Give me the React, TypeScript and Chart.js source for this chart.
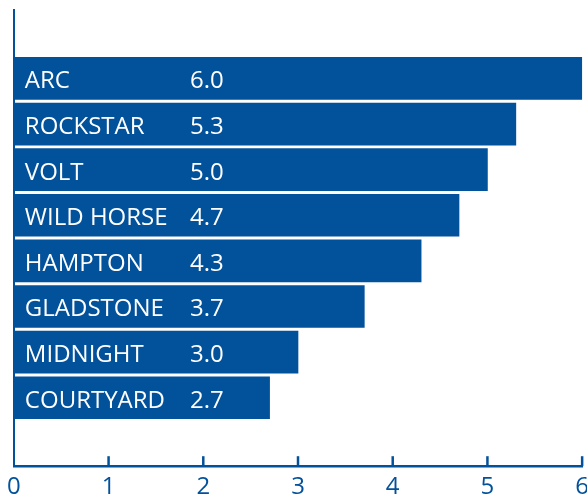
import React, { useEffect, useRef } from "react";
import { Chart, registerables } from "chart.js";

Chart.register(...registerables);

const categories = ["ARC", "ROCKSTAR", "VOLT", "WILD HORSE", "HAMPTON", "GLADSTONE", "MIDNIGHT", "COURTYARD"];
const values = [6.0, 5.3, 5.0, 4.7, 4.3, 3.7, 3.0, 2.7];
const xTicks = [0, 1, 2, 3, 4, 5, 6];

const BLUE = "#02519b";
const FONT = "'Open Sans', sans-serif";

const barLabels = {
  id: "barLabels",
  afterDatasetsDraw(chart: any) {
    const ctx = chart.ctx;
    const meta = chart.getDatasetMeta(0);
    const xs = chart.scales.x;
    ctx.save();
    ctx.fillStyle = "#ffffff";
    ctx.font = `24px ${FONT}`;
    ctx.textBaseline = "middle";
    ctx.textAlign = "left";
    meta.data.forEach((el: any, i: number) => {
      const idx = i - 1;
      if (idx < 0 || idx >= categories.length) return;
      ctx.fillText(categories[idx], xs.left + 11, el.y + 3);
      ctx.fillText(values[idx].toFixed(1), 190, el.y + 3);
    });
    ctx.restore();
  },
  afterDraw(chart: any) {
    const ctx = chart.ctx;
    const xs = chart.scales.x;
    const bottom = chart.chartArea.bottom;
    ctx.save();
    ctx.strokeStyle = BLUE;
    ctx.lineWidth = 2.5;
    xTicks.forEach((t) => {
      if (t === 0) return;
      const px = xs.getPixelForValue(t);
      ctx.beginPath();
      ctx.moveTo(px, bottom - 10);
      ctx.lineTo(px, bottom);
      ctx.stroke();
    });
    ctx.restore();
  },
};

export default function App() {
  const ref = useRef<HTMLCanvasElement>(null);
  useEffect(() => {
    if (!ref.current) return;
    const labels = ["", ...categories, ""];
    const data = [null, ...values, null];
    const chart = new Chart(ref.current, {
      type: "bar",
      data: {
        labels,
        datasets: [
          {
            data,
            backgroundColor: BLUE,
            borderWidth: 0,
            barThickness: 42,
          },
        ],
      },
      options: {
        indexAxis: "y",
        animation: false,
        responsive: false,
        layout: { padding: { left: 13.5, top: 10, right: 0, bottom: 0 } },
        plugins: { legend: { display: false }, tooltip: { enabled: false } },
        scales: {
          x: {
            type: "linear",
            min: 0,
            max: 6,
            ticks: {
              stepSize: 1,
              color: BLUE,
              font: { family: FONT, size: 24 },
              padding: 7,
            },
            grid: { display: false, drawTicks: false },
            border: { display: true, color: BLUE, width: 2.5 },
          },
          y: {
            ticks: { display: false },
            grid: { display: false, drawTicks: false },
            border: { display: true, color: BLUE, width: 2 },
          },
        },
      },
      plugins: [barLabels],
    });
    return () => chart.destroy();
  }, []);
  return (
    <div style={{ position: "fixed", left: 0, top: 0, width: 596, height: 509 }}>
      <canvas ref={ref} width={596} height={509} style={{ display: "block" }} />
    </div>
  );
}
